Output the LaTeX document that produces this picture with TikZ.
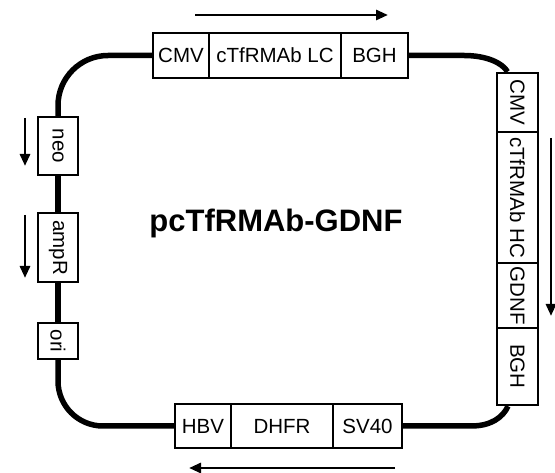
\documentclass[tikz,border=0pt]{standalone}
\usepackage{fontspec}
\setmainfont{Liberation Sans}
\usepackage{graphicx}
\usetikzlibrary{arrows.meta,calc}
\begin{document}
\begin{tikzpicture}[x=1pt,y=-1pt,
 gene/.style={draw,line width=2.4pt,inner sep=0pt,font=\fontsize{20.5}{24}\selectfont,fill=white},
 backbone/.style={line width=5.5pt},
 dirarrow/.style={line width=2.8pt,-{Triangle[length=12pt,width=10pt]}}]
\useasboundingbox (0,0) rectangle (555,473);
% top cassette
\node[gene,minimum width=56pt,minimum height=45pt] (tCMV) at (181,55.5) {CMV};
\node[gene,minimum width=132pt,minimum height=45pt] (tLC) at (275,55.5) {cTfRMAb LC};
\node[gene,minimum width=67pt,minimum height=45pt] (tBGH) at (374.5,55.5) {BGH};
% right cassette
\node[gene,minimum width=41pt,minimum height=59pt] (rCMV) at (517.5,102.5) {\rotatebox{-90}{CMV}};
\node[gene,minimum width=41pt,minimum height=131pt] (rHC) at (517.5,197.5) {\rotatebox{-90}{cTfRMAb HC}};
\node[gene,minimum width=41pt,minimum height=65pt] (rGDNF) at (517.5,295.5) {\rotatebox{-90}{GDNF}};
\node[gene,minimum width=41pt,minimum height=77pt] (rBGH) at (517.5,366.5) {\rotatebox{-90}{BGH}};
% left elements
\node[gene,minimum width=40pt,minimum height=58pt] (neo) at (58,146) {\rotatebox{-90}{neo}};
\node[gene,minimum width=40pt,minimum height=69pt] (ampR) at (58,247.5) {\rotatebox{-90}{ampR}};
\node[gene,minimum width=40pt,minimum height=36pt] (ori) at (58,341) {\rotatebox{-90}{ori}};
% bottom cassette
\node[gene,minimum width=56pt,minimum height=44pt] (bHBV) at (203,426) {HBV};
\node[gene,minimum width=102pt,minimum height=44pt] (bDHFR) at (282,426) {DHFR};
\node[gene,minimum width=69pt,minimum height=44pt] (bSV40) at (367.5,426) {SV40};
% backbone
\draw[backbone,rounded corners=50pt] (tCMV.west) -| (neo.north);
\draw[backbone] (neo.south) -- (ampR.north);
\draw[backbone] (ampR.south) -- (ori.north);
\draw[backbone,rounded corners=45pt] (ori.south) |- (bHBV.west);
\draw[backbone] (bSV40.east) -- ++(68,0) .. controls +(20,0) and +(-5,11) .. ([xshift=-9.5pt]rBGH.south);
\draw[backbone] (tBGH.east) -- ++(55,0) .. controls +(22,0) and +(-5,-9) .. ([xshift=-10pt]rCMV.north);
% direction arrows
\coordinate (a1s) at (195,15); \coordinate (a1e) at (388,15);
\coordinate (a2s) at (551,138); \coordinate (a2e) at (551,316);
\coordinate (a3s) at (395,468); \coordinate (a3e) at (189,468);
\coordinate (a4s) at (25,118); \coordinate (a4e) at (25,166);
\coordinate (a5s) at (25,215); \coordinate (a5e) at (25,278);
\draw[dirarrow] (a1s) -- (a1e);
\draw[dirarrow] (a2s) -- (a2e);
\draw[dirarrow] (a3s) -- (a3e);
\draw[dirarrow] (a4s) -- (a4e);
\draw[dirarrow] (a5s) -- (a5e);
% title
\node[font=\fontsize{31}{36}\bfseries\selectfont,anchor=base] (title) at (276,232) {pcTfRMAb-GDNF};
\end{tikzpicture}
\end{document}
